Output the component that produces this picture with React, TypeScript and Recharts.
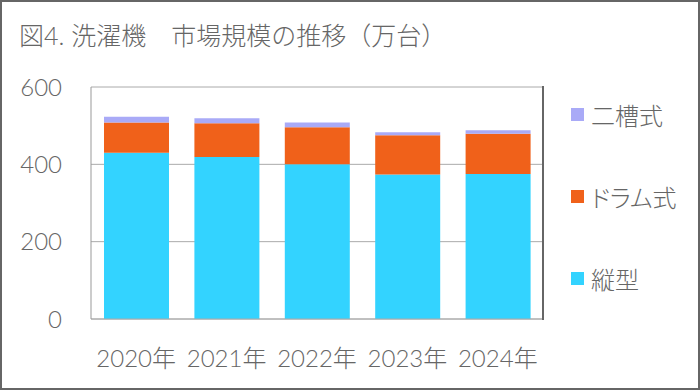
import React from 'react';
import { BarChart, Bar, XAxis, YAxis, CartesianGrid } from 'recharts';

const years = ['2020年', '2021年', '2022年', '2023年', '2024年'];
const tateValues = [430, 419, 400, 374, 375];
const drumValues = [78, 87, 96, 101, 104];
const nisouValues = [15, 13, 12, 8, 9];
const yTicks = [0, 200, 400, 600];

const seriesNames = { tate: '縦型', drum: 'ドラム式', nisou: '二槽式' };
const colors = { tate: '#33D3FF', drum: '#F0611A', nisou: '#A9AAF7' };

const data = years.map((year, i) => ({
  year,
  tate: tateValues[i],
  drum: drumValues[i],
  nisou: nisouValues[i],
}));

const font = "Lato, 'Noto Sans CJK JP', sans-serif";
const textColor = '#666';

// legend order top to bottom, as in the picture
const legendKeys: Array<keyof typeof seriesNames> = ['nisou', 'drum', 'tate'];

export default function App() {
  return (
    <div style={{ position: 'absolute', left: 0, top: 0, width: 700, height: 390, background: '#fff', fontFamily: font, fontWeight: 300 }}>
      <div
        style={{
          position: 'absolute',
          left: 19,
          top: 20,
          fontSize: 25,
          lineHeight: '30px',
          color: textColor,
          whiteSpace: 'pre',
        }}
      >
        図4. 洗濯機　市場規模の推移（万台）
      </div>

      <BarChart
        width={700}
        height={390}
        data={data}
        margin={{ top: 87, right: 157, bottom: 0, left: 0 }}
        barSize={65}
      >
        <CartesianGrid vertical={false} stroke="#aaa" horizontalValues={yTicks} />
        <XAxis
          dataKey="year"
          height={71}
          tickLine={false}
          tickSize={0}
          tickMargin={31}
          axisLine={{ stroke: '#aaa' }}
          tick={{ fill: textColor, fontSize: 24, fontFamily: font, fontWeight: 300 }}
        />
        <YAxis
          width={91}
          domain={[0, 600]}
          ticks={yTicks}
          tickLine={false}
          tickSize={0}
          tickMargin={29}
          axisLine={{ stroke: '#999' }}
          tick={{ fill: textColor, fontSize: 24, fontFamily: font, fontWeight: 300 }}
        />
        <Bar dataKey="tate" name={seriesNames.tate} stackId="a" fill={colors.tate} isAnimationActive={false} />
        <Bar dataKey="drum" name={seriesNames.drum} stackId="a" fill={colors.drum} isAnimationActive={false} />
        <Bar dataKey="nisou" name={seriesNames.nisou} stackId="a" fill={colors.nisou} isAnimationActive={false} />
      </BarChart>

      {/* right edge of the plot box */}
      <div style={{ position: 'absolute', left: 542, top: 86, width: 2, height: 234, background: '#666' }} />

      <div style={{ position: 'absolute', left: 571, top: 96 }}>
        {legendKeys.map((key) => (
          <div key={key} style={{ display: 'flex', alignItems: 'center', height: 36, marginBottom: 46 }}>
            <span style={{ width: 13, height: 13, background: colors[key], display: 'inline-block' }} />
            <span style={{ marginLeft: 7, fontSize: 24, color: textColor, fontFeatureSettings: '"palt"' }}>
              {seriesNames[key]}
            </span>
          </div>
        ))}
      </div>

      <div
        style={{
          position: 'absolute',
          left: 0,
          top: 0,
          width: 700,
          height: 390,
          boxSizing: 'border-box',
          border: '2px solid #666',
          pointerEvents: 'none',
        }}
      />
    </div>
  );
}
